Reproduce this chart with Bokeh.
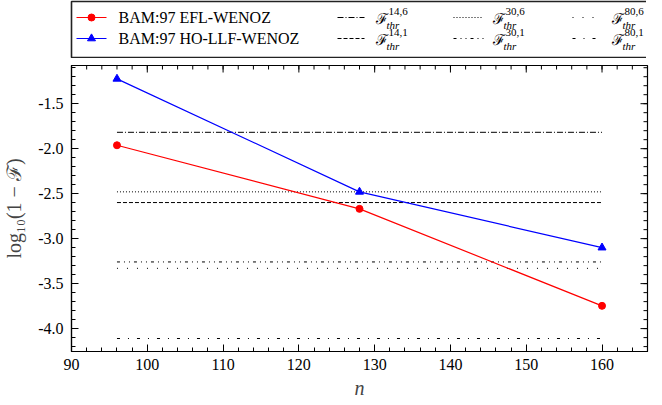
import math
from bokeh.plotting import figure
from bokeh.models import Range1d, FixedTicker, ColumnDataSource
from bokeh.layouts import column
from bokeh.embed import file_html
from bokeh.resources import INLINE
from bokeh.core.properties import value

# ---------------- data ----------------
n = [96, 128, 160]
efl_wenoz = [-1.962, -2.669, -3.747]
ho_llf_wenoz = [-1.224, -2.48, -3.10]

thr_labels = ["14,6", "14,1", "30,6", "30,1", "80,6", "80,1"]
thr_values = [-1.818, -2.599, -2.48, -3.259, -3.33, -4.11]

x_ticks = [90, 100, 110, 120, 130, 140, 150, 160]
x_tick_labels = ["90", "100", "110", "120", "130", "140", "150", "160"]
y_ticks = [-4.0, -3.5, -3.0, -2.5, -2.0, -1.5]
y_tick_labels = ["-4.0", "-3.5", "-3.0", "-2.5", "-2.0", "-1.5"]
x_minor = list(range(90, 167, 2))
y_minor = [round(-4.2 + 0.1 * i, 1) for i in range(32)]

series_names = ["BAM:97 EFL-WENOZ", "BAM:97 HO-LLF-WENOZ"]

# ---------------- styles ----------------
SERIF = "Liberation Serif"
thr_dash = ["6 2 1 2", "4 2", "1 2", "3 4 1 4 1 4", "1 9", "3 8 1 8"]
RED = "#ff0000"
BLUE = "#0000ff"
W_FRAME = 576
X0, X1 = 90, 166
Y0, Y1 = -4.2545, -1.0755

# ---------------- legend figure ----------------
leg = figure(frame_width=W_FRAME, frame_height=57, min_border_left=68, min_border_right=2,
             min_border_top=1, min_border_bottom=0,
             x_range=Range1d(0, W_FRAME), y_range=Range1d(57, 0),
             x_axis_type=None, y_axis_type=None, toolbar_location=None,
             output_backend="svg")
leg.grid.visible = False
leg.outline_line_color = "#222222"
leg.outline_line_width = 1.6
leg.background_fill_color = "white"

row_y = [16, 37]
for i, (name, col, mk) in enumerate(zip(series_names, [RED, BLUE], ["circle", "triangle"])):
    y = row_y[i]
    leg.line([5, 35], [y, y], line_color=col, line_width=1.2)
    leg.scatter([20], [y], marker=mk, size=7 if mk == "circle" else 8, color=col)
    leg.text([47], [y], text=[name], text_font=value(SERIF), text_font_size="16px",
             text_baseline="middle", text_color="black")

col_sample = [(266, 293), (382, 412), (501, 531)]
col_text = [304, 421, 540]
for k, lab in enumerate(thr_labels):
    c = k // 2
    r = k % 2
    y = row_y[r]
    x0, x1 = col_sample[c]
    leg.line([x0, x1], [y, y], line_color="black", line_width=1, line_dash=thr_dash[k])
    xt = col_text[c]
    leg.text([xt], [y + 1], text=["ℱ"], text_font=value("DejaVu Serif"),
             text_font_size="15px", text_baseline="middle", text_color="black")
    leg.text([xt + 13], [y - 6], text=[lab], text_font=value(SERIF), text_font_size="11px",
             text_baseline="middle", text_color="black")
    leg.text([xt + 11], [y + 7], text=["thr"], text_font=value(SERIF), text_font_style="italic",
             text_font_size="11px", text_baseline="middle", text_color="black")

# ---------------- main figure ----------------
p = figure(frame_width=W_FRAME, frame_height=286, min_border_left=68, min_border_right=2,
           min_border_top=7, min_border_bottom=38,
           x_range=Range1d(X0, X1), y_range=Range1d(Y0, Y1),
           toolbar_location=None, output_backend="svg")
p.grid.visible = False
p.outline_line_color = "black"
p.outline_line_width = 1.2

for k, v in enumerate(thr_values):
    p.line([n[0], n[-1]], [v, v], line_color="black", line_width=1, line_dash=thr_dash[k])

src = ColumnDataSource(dict(n=n, efl=efl_wenoz, ho=ho_llf_wenoz))
p.line("n", "efl", source=src, line_color=RED, line_width=1.2)
p.scatter("n", "efl", source=src, marker="circle", size=7, color=RED)
p.line("n", "ho", source=src, line_color=BLUE, line_width=1.2)
p.scatter("n", "ho", source=src, marker="triangle", size=8, color=BLUE)

# mirrored inward ticks on top and right edges (half of each dash is clipped by the frame)
p.scatter(x_ticks, [Y1] * len(x_ticks), marker="dash", size=14, angle=math.pi / 2,
          line_color="black", line_width=1)
p.scatter(x_minor, [Y1] * len(x_minor), marker="dash", size=8, angle=math.pi / 2,
          line_color="black", line_width=1)
p.scatter([X1] * len(y_ticks), y_ticks, marker="dash", size=14,
          line_color="black", line_width=1)
p.scatter([X1] * len(y_minor), y_minor, marker="dash", size=8,
          line_color="black", line_width=1)

def style_axis(ax):
    ax.axis_line_color = "black"
    ax.axis_line_width = 1.2
    ax.major_tick_line_color = "black"
    ax.minor_tick_line_color = "black"
    ax.major_tick_in = 7
    ax.major_tick_out = 0
    ax.minor_tick_in = 4
    ax.minor_tick_out = 0
    ax.major_label_text_font = SERIF
    ax.major_label_text_font_size = "16px"
    ax.major_label_text_color = "black"

xa = p.xaxis[0]
xa.ticker = FixedTicker(ticks=x_ticks, minor_ticks=x_minor)
xa.major_label_overrides = {t: l for t, l in zip(x_ticks, x_tick_labels)}
style_axis(xa)
xa.major_label_standoff = 7
xa.axis_label = "n"
xa.axis_label_text_font = SERIF
xa.axis_label_text_font_style = "italic"
xa.axis_label_text_font_size = "20px"
xa.axis_label_standoff = 4

ya = p.yaxis[0]
ya.ticker = FixedTicker(ticks=y_ticks, minor_ticks=y_minor)
ya.major_label_overrides = {t: l for t, l in zip(y_ticks, y_tick_labels)}
style_axis(ya)
ya.major_label_standoff = 8
ya.axis_label = "log₁₀(1 − ℱ)"
ya.axis_label_text_font = SERIF
ya.axis_label_text_font_style = "normal"
ya.axis_label_text_font_size = "20px"
ya.axis_label_standoff = 10

layout = column(leg, p, spacing=0)
open("out.html", "w").write(file_html(layout, INLINE))
